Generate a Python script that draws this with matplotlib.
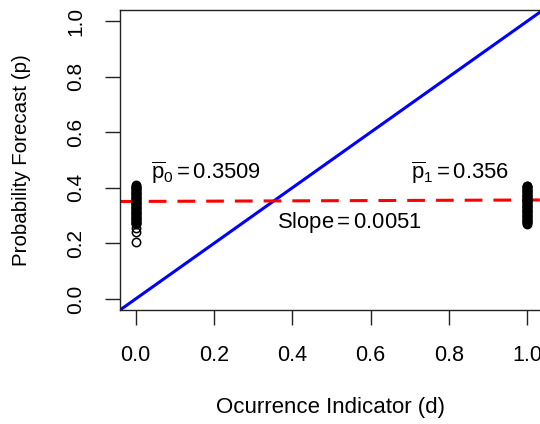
import matplotlib
matplotlib.use("Agg")
import matplotlib.pyplot as plt

plt.rcParams['font.family'] = ['Liberation Sans', 'DejaVu Sans']
plt.rcParams['mathtext.fontset'] = 'custom'
plt.rcParams['mathtext.rm'] = 'Liberation Sans'
plt.rcParams['mathtext.it'] = 'Liberation Sans:italic'
plt.rcParams['mathtext.bf'] = 'Liberation Sans:bold'

# Forecast probabilities when event did not occur (d = 0)
p_d0 = [0.410, 0.407, 0.404, 0.401, 0.398, 0.395, 0.392, 0.389, 0.386, 0.383,
        0.380, 0.377, 0.374, 0.371, 0.368, 0.365, 0.362, 0.359, 0.356, 0.353,
        0.350, 0.347, 0.344, 0.341, 0.338, 0.335, 0.332, 0.329, 0.326, 0.323,
        0.320, 0.317, 0.314, 0.311, 0.308, 0.305, 0.302, 0.299, 0.296, 0.293,
        0.290, 0.287, 0.284, 0.281, 0.278, 0.275, 0.272, 0.269,
        0.256, 0.242, 0.204]
# Forecast probabilities when event occurred (d = 1)
p_d1 = [0.408, 0.405, 0.402, 0.399, 0.396, 0.393, 0.390, 0.387, 0.384, 0.381,
        0.378, 0.375, 0.372, 0.369, 0.366, 0.363, 0.360, 0.357, 0.354, 0.351,
        0.348, 0.345, 0.342, 0.339, 0.336, 0.333, 0.330, 0.327, 0.324, 0.321,
        0.318, 0.315, 0.312, 0.309, 0.306, 0.303, 0.300, 0.297, 0.294, 0.291,
        0.288, 0.285, 0.282, 0.279, 0.276, 0.273, 0.270]

mean_p0 = 0.3509
mean_p1 = 0.356
slope = 0.0051

ticks = [0.0, 0.2, 0.4, 0.6, 0.8, 1.0]
tick_labels = ["0.0", "0.2", "0.4", "0.6", "0.8", "1.0"]

fig = plt.figure(figsize=(5.4, 4.24), dpi=100)
ax = fig.add_axes([120/540, (424-310)/424, 423/540, 300/424])
ax.set_xlim(-0.04, 1.04)
ax.set_ylim(-0.04, 1.04)

mk = dict(linestyle='none', marker='o', markersize=6.0, markerfacecolor='none',
          markeredgecolor='black', markeredgewidth=1.1, zorder=3)
ax.plot([0]*len(p_d0), p_d0, **mk)
ax.plot([1]*len(p_d1), p_d1, **mk)

ax.axline((0, 0), slope=1, color='#0000ff', linewidth=2.2, zorder=2)
ax.axline((0, mean_p0), slope=slope, color='#ff0000', linewidth=2.2,
          dashes=(5.8, 3.6), zorder=2)

fs_txt = 15.8
ax.text(0.18, 0.455, r'$\overline{\mathrm{p}}_{0} = %s$' % "0.3509", ha='center', va='center', fontsize=fs_txt)
ax.text(0.827, 0.455, r'$\overline{\mathrm{p}}_{1} = %s$' % "0.356", ha='center', va='center', fontsize=fs_txt)
ax.text(0.545, 0.276, r'$\mathrm{Slope} = %s$' % "0.0051", ha='center', va='center', fontsize=fs_txt)

ax.set_xticks(ticks)
ax.set_xticklabels(tick_labels)
ax.set_yticks(ticks)
ax.set_yticklabels(tick_labels, rotation=90, va='center')
ax.tick_params(axis='x', labelsize=15.5)
ax.tick_params(axis='y', labelsize=15)
ax.tick_params(axis='both', direction='out', length=11, width=1, pad=14, color='#222222')
for s in ax.spines.values():
    s.set_color('#222222')
    s.set_linewidth(1)

fig.text(330/540, 1-407/424, "Ocurrence Indicator (d)", ha='center', va='center', fontsize=16)
fig.text(22/540, 1-160/424, "Probability Forecast (p)", rotation=90, ha='center', va='center', fontsize=14.8)

fig.savefig("out.png", dpi=100)
